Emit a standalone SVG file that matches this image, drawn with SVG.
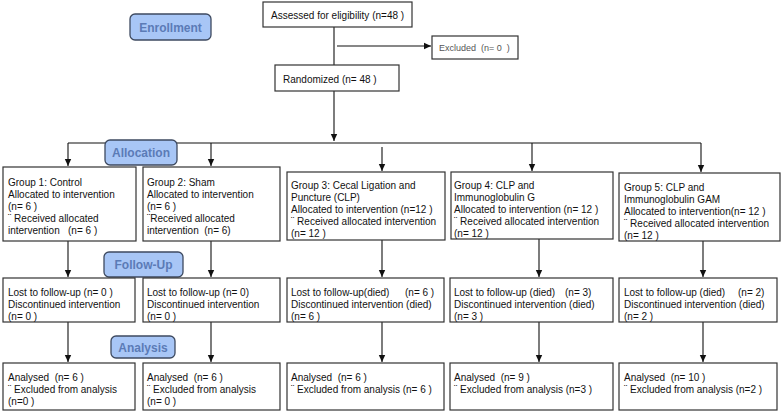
<svg xmlns="http://www.w3.org/2000/svg" width="784" height="414" viewBox="0 0 784 414">
<style>
text{font-family:"Liberation Sans",Arial,sans-serif;font-size:10px;fill:#111;white-space:pre}
.box{fill:#fff;stroke:#333;stroke-width:1.2}
.pill{fill:#a8c6f6;stroke:#3e4a60;stroke-width:1.3}
.pt{font-size:12px;font-weight:bold;fill:#5b7bb6;text-anchor:middle}
.ex{font-size:9px;fill:#555}
.c{fill:none;stroke:#111;stroke-width:1.1}
</style>
<defs>
<marker id="ah" markerUnits="userSpaceOnUse" markerWidth="8" markerHeight="8" viewBox="0 0 8 8" refX="7" refY="4" orient="auto">
<path d="M0,0.8 L7,4 L0,7.2 Z" fill="#111"/>
</marker>
</defs>
<rect width="784" height="414" fill="#fff"/>

<g id="connectors">
<path class="c" d="M334 27 V65"/>
<path class="c" d="M337 46 H431" marker-end="url(#ah)"/>
<path class="c" d="M334 91 V141" marker-end="url(#ah)"/>
<path class="c" d="M68 143 H701"/>
<path class="c" d="M68 143 V166" marker-end="url(#ah)"/>
<path class="c" d="M211 143 V166" marker-end="url(#ah)"/>
<path class="c" d="M382 147 V171" marker-end="url(#ah)"/>
<path class="c" d="M532 143 V171" marker-end="url(#ah)"/>
<path class="c" d="M701 143 V172" marker-end="url(#ah)"/>
<path class="c" d="M68 241 V277" marker-end="url(#ah)"/>
<path class="c" d="M211 241 V277" marker-end="url(#ah)"/>
<path class="c" d="M382 240 V277" marker-end="url(#ah)"/>
<path class="c" d="M539 239 V277" marker-end="url(#ah)"/>
<path class="c" d="M703 241 V277" marker-end="url(#ah)"/>
<path class="c" d="M68 322 V362" marker-end="url(#ah)"/>
<path class="c" d="M211 322 V362" marker-end="url(#ah)"/>
<path class="c" d="M382 322 V362" marker-end="url(#ah)"/>
<path class="c" d="M539 322 V362" marker-end="url(#ah)"/>
<path class="c" d="M703 322 V362" marker-end="url(#ah)"/>
</g>

<g id="enrollment"><rect class="pill" x="130" y="14" width="81" height="26" rx="5"/><text class="pt" x="170.5" y="31.5">Enrollment</text></g>
<g id="allocation"><rect class="pill" x="105" y="140" width="72" height="25" rx="5"/><text class="pt" x="141" y="157">Allocation</text></g>
<g id="followup"><rect class="pill" x="104" y="252" width="79" height="25" rx="5"/><text class="pt" x="143.5" y="269">Follow-Up</text></g>
<g id="analysis"><rect class="pill" x="111" y="336" width="64" height="22" rx="5"/><text class="pt" x="143" y="351.5">Analysis</text></g>

<g id="assessed"><rect class="box" x="263" y="2" width="149" height="25"/><text x="271" y="19">Assessed for eligibility (n=48 )</text></g>
<g id="excluded"><rect class="box" x="432" y="36" width="86" height="23"/><text class="ex" x="439" y="51">Excluded  (n= 0  )</text></g>
<g id="randomized"><rect class="box" x="275" y="65" width="124" height="26"/><text x="283" y="83">Randomized (n= 48 )</text></g>

<g id="g1"><rect class="box" x="3" y="167" width="133" height="74"/>
<text x="8" y="186">Group 1: Control</text>
<text x="8" y="198">Allocated to intervention</text>
<text x="8" y="210">(n= 6 )</text>
<text x="8" y="222">¨ Received allocated</text>
<text x="8" y="234">intervention   (n= 6 )</text></g>
<g id="g2"><rect class="box" x="143" y="167" width="137" height="74"/>
<text x="147" y="186">Group 2: Sham</text>
<text x="147" y="198">Allocated to intervention</text>
<text x="147" y="210">(n= 6 )</text>
<text x="147" y="222">¨Received allocated</text>
<text x="147" y="234">intervention  (n= 6)</text></g>
<g id="g3"><rect class="box" x="287" y="172" width="158" height="68"/>
<text x="291" y="189">Group 3: Cecal Ligation and</text>
<text x="291" y="201">Puncture (CLP)</text>
<text x="291" y="213">Allocated to intervention (n=12 )</text>
<text x="291" y="225">¨ Received allocated intervention</text>
<text x="291" y="237">(n= 12 )</text></g>
<g id="g4"><rect class="box" x="451" y="172" width="162" height="67"/>
<text x="454" y="189">Group 4: CLP and</text>
<text x="454" y="201">Immunoglobulin G</text>
<text x="454" y="213">Allocated to intervention (n= 12 )</text>
<text x="454" y="225">¨ Received allocated intervention</text>
<text x="454" y="237">(n= 12 )</text></g>
<g id="g5"><rect class="box" x="619" y="173" width="161" height="68"/>
<text x="624" y="191">Group 5: CLP and</text>
<text x="624" y="203">Immunoglobulin GAM</text>
<text x="624" y="215">Allocated to intervention(n= 12 )</text>
<text x="624" y="227">¨ Received allocated intervention</text>
<text x="624" y="239">(n= 12 )</text></g>

<g id="f1"><rect class="box" x="3" y="278" width="132" height="44"/>
<text x="8" y="296">Lost to follow-up (n= 0 )</text>
<text x="8" y="308">Discontinued intervention</text>
<text x="8" y="320">(n= 0 )</text></g>
<g id="f2"><rect class="box" x="143" y="278" width="137" height="44"/>
<text x="147" y="296">Lost to follow-up (n= 0)</text>
<text x="147" y="308">Discontinued intervention</text>
<text x="147" y="320">(n= 0 )</text></g>
<g id="f3"><rect class="box" x="287" y="278" width="157" height="44"/>
<text x="291" y="296">Lost to follow-up(died)</text><text x="405" y="296">(n= 6 )</text>
<text x="291" y="308">Discontinued intervention (died)</text>
<text x="291" y="320">(n= 6 )</text></g>
<g id="f4"><rect class="box" x="450" y="278" width="163" height="44"/>
<text x="454" y="296">Lost to follow-up (died)</text><text x="565" y="296">(n= 3)</text>
<text x="454" y="308">Discontinued intervention (died)</text>
<text x="454" y="320">(n= 3 )</text></g>
<g id="f5"><rect class="box" x="619" y="278" width="158" height="44"/>
<text x="624" y="296">Lost to follow-up (died)</text><text x="738" y="296">(n= 2)</text>
<text x="624" y="308">Discontinued intervention (died)</text>
<text x="624" y="320">(n= 2 )</text></g>

<g id="a1"><rect class="box" x="3" y="363" width="132" height="47"/>
<text x="8" y="381">Analysed  (n= 6 )</text>
<text x="8" y="393">¨ Excluded from analysis</text>
<text x="8" y="405">(n=0 )</text></g>
<g id="a2"><rect class="box" x="143" y="363" width="137" height="47"/>
<text x="147" y="381">Analysed  (n= 6 )</text>
<text x="147" y="393">¨ Excluded from analysis</text>
<text x="147" y="405">(n= 0 )</text></g>
<g id="a3"><rect class="box" x="287" y="363" width="157" height="47"/>
<text x="291" y="381">Analysed  (n= 6 )</text>
<text x="291" y="393">¨ Excluded from analysis (n= 6 )</text></g>
<g id="a4"><rect class="box" x="450" y="363" width="163" height="47"/>
<text x="454" y="381">Analysed  (n= 9 )</text>
<text x="454" y="393">¨ Excluded from analysis (n=3 )</text></g>
<g id="a5"><rect class="box" x="619" y="363" width="158" height="47"/>
<text x="624" y="381">Analysed  (n= 10 )</text>
<text x="624" y="393">¨ Excluded from analysis (n=2 )</text></g>
</svg>
